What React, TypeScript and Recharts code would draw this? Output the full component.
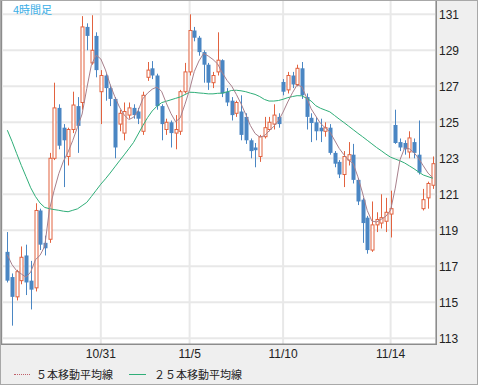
import { Bar, CartesianGrid, ComposedChart, Line, XAxis, YAxis } from "recharts";

const opens = [
  117.8, 116.4, 115.3, 116.2, 117.6, 116.2, 115.8, 120.1, 118.3, 118.5,
  123.0, 125.8, 124.7, 123.1, 124.6, 125.9, 126.1, 130.3, 128.3, 129.8,
  126.7, 127.6, 126.9, 126.3, 124.9, 124.4, 125.4, 125.8, 125.6, 124.5,
  127.5, 128.0, 127.6, 125.9, 124.6, 125.0, 124.4, 124.5, 126.7, 127.8,
  130.1, 129.7, 128.9, 128.2, 127.2, 127.8, 128.45, 126.7, 126.2, 125.5,
  125.6, 125.3, 124.0, 123.6, 123.1, 124.2, 124.6, 124.9, 125.3, 127.24,
  126.8, 127.6, 127.1, 128.0, 126.4, 125.25, 125.0, 124.7, 124.5, 124.7,
  123.3, 122.8, 122.1, 122.9, 123.2, 121.8, 120.7, 119.7, 117.9, 119.3,
  119.4, 119.5, 119.9, 124.85, 123.9, 123.85, 123.35, 123.9, 123.2, 120.2,
  120.8, 121.5,
];
const highs = [
  118.9, 116.6, 116.8, 118.1, 118.2, 117.3, 120.5, 120.2, 118.7, 123.3,
  127.2, 126.0, 124.9, 124.7, 126.7, 126.4, 130.9, 130.5, 130.95, 130.0,
  127.9, 127.7, 127.1, 126.4, 125.7, 126.1, 126.1, 126.0, 125.8, 126.7,
  128.35, 128.4, 127.7, 126.0, 125.2, 125.1, 125.4, 126.8, 128.3, 131.0,
  130.3, 129.8, 129.0, 128.3, 127.8, 130.0, 128.5, 126.9, 126.4, 126.2,
  126.5, 125.5, 124.1, 123.85, 124.3, 125.3, 125.3, 126.0, 125.5, 127.4,
  127.8, 127.8, 128.2, 128.35, 126.6, 125.5, 125.3, 125.2, 125.0, 124.9,
  123.4, 122.9, 123.4, 123.9, 123.8, 121.9, 120.8, 119.8, 120.6, 120.0,
  121.0, 120.8, 121.2, 125.7, 124.1, 124.0, 124.5, 124.1, 125.1, 121.3,
  121.7, 123.1,
];
const lows = [
  116.1, 113.7, 115.1, 116.0, 115.4, 114.6, 115.6, 117.9, 117.6, 118.3,
  122.9, 123.5, 121.4, 122.6, 124.4, 123.3, 125.7, 129.0, 128.2, 127.5,
  124.9, 126.2, 125.9, 123.0, 124.5, 124.0, 125.2, 125.2, 124.9, 124.3,
  127.3, 127.4, 125.7, 124.0, 124.3, 123.6, 123.5, 124.3, 126.6, 127.6,
  129.5, 128.7, 127.2, 126.8, 126.9, 127.6, 126.4, 125.9, 125.1, 125.3,
  124.0, 123.8, 123.0, 122.5, 122.8, 124.1, 124.5, 124.6, 124.7, 126.5,
  126.6, 126.9, 127.0, 126.3, 124.6, 123.9, 124.0, 123.9, 124.2, 123.2,
  122.5, 121.9, 121.4, 122.6, 121.6, 120.4, 118.3, 117.7, 117.8, 118.9,
  119.1, 118.9, 118.6, 123.8, 123.4, 123.2, 123.0, 123.0, 122.1, 120.1,
  120.2, 121.3,
];
const closes = [
  116.2, 115.3, 116.7, 117.5, 116.1, 115.7, 120.1, 118.2, 118.0, 123.0,
  125.8, 123.7, 124.0, 124.6, 125.96, 124.8, 130.3, 129.8, 129.0, 127.9,
  127.6, 126.9, 126.3, 123.6, 125.5, 125.6, 125.8, 125.4, 125.2, 126.5,
  127.9, 127.6, 125.9, 124.9, 125.0, 124.4, 124.6, 126.7, 127.8, 130.1,
  129.7, 128.9, 128.2, 127.2, 127.6, 128.45, 126.6, 126.1, 125.4, 126.1,
  124.3, 124.0, 123.4, 123.45, 124.2, 124.7, 125.0, 125.4, 124.9, 126.7,
  127.6, 127.1, 128.0, 126.5, 125.3, 124.96, 124.5, 124.5, 124.7, 123.3,
  122.7, 122.1, 123.1, 123.2, 121.8, 120.6, 119.4, 117.9, 119.3, 119.6,
  119.7, 120.0, 120.2, 123.85, 123.6, 123.5, 124.13, 123.3, 122.2, 120.7,
  121.6, 122.7,
];
const ma5 = [
  117.64, 117.09, 116.75, 116.57, 116.39, 116.68, 117.36, 117.61, 118.11, 120.14,
  121.2, 122.14, 122.84, 123.35, 123.99, 124.72, 125.46, 126.88, 128.21, 128.73,
  128.52, 127.91, 127.09, 126.42, 125.84, 125.41, 125.15, 125.28, 125.66, 126.31,
  126.62, 126.84, 126.96, 126.72, 126.07, 125.49, 125.03, 125.25, 126.0, 126.82,
  127.82, 128.41, 128.83, 128.68, 128.49, 128.24, 127.75, 127.33, 127.01, 126.55,
  126.03, 125.44, 124.82, 124.38, 124.18, 124.25, 124.52, 124.77, 125.09, 125.57,
  126.13, 126.64, 127.08, 126.98, 126.39, 125.75, 125.34, 124.94, 124.7, 124.47,
  124.01, 123.55, 123.2, 122.89, 122.71, 121.97, 121.07, 120.1, 119.51, 119.46,
  119.61, 119.78, 120.12, 121.34, 122.91, 123.57, 123.53, 123.32, 122.99, 122.58,
  122.18, 121.92,
];
const ma25 = [
  124.56, 123.94, 123.26, 122.6, 121.98, 121.36, 120.88, 120.51, 120.27, 120.2,
  120.15, 120.11, 120.06, 120.03, 120.11, 120.19, 120.37, 120.55, 120.88, 121.22,
  121.56, 121.86, 122.18, 122.52, 122.86, 123.19, 123.53, 123.88, 124.35, 124.82,
  125.26, 125.63, 125.89, 126.09, 126.17, 126.25, 126.33, 126.41, 126.54, 126.67,
  126.66, 126.63, 126.61, 126.58, 126.58, 126.61, 126.62, 126.69, 126.77, 126.78,
  126.75, 126.7, 126.62, 126.55, 126.43, 126.27, 126.18, 126.18, 126.21, 126.28,
  126.37, 126.43, 126.48, 126.47, 126.34, 126.18, 125.92, 125.78, 125.68, 125.58,
  125.38, 125.18, 124.99, 124.79, 124.59, 124.39, 124.2, 124.0, 123.8, 123.6,
  123.42, 123.23, 123.06, 122.96, 122.86, 122.74, 122.58, 122.42, 122.24, 122.07,
  121.98, 121.89,
];
const tickBars = [20, 39, 59, 82];
const tickLabels = ["10/31", "11/5", "11/10", "11/14"];
const priceTicks = [113, 115, 117, 119, 121, 123, 125, 127, 129, 131];

const UP = "#e2623f";
const DOWN = "#4a86c3";
const FONT = '"Liberation Sans", Arial, sans-serif';
const JP_FONT = '"Noto Sans CJK JP", sans-serif';

const data = opens.map((open, i) => ({
  i,
  open,
  close: closes[i],
  high: highs[i],
  low: lows[i],
  range: [lows[i], highs[i]],
  ma5: ma5[i],
  ma25: ma25[i],
}));

// Draws one candle inside the pixel box recharts gives the [low, high] bar.
function Candle(props: any) {
  const { x, y, width, height, payload } = props;
  if (payload == null) return null;
  const { open, close, high, low } = payload;
  const top = Math.min(y, y + height);
  const bottom = Math.max(y, y + height);
  const px = (v: number) => top + ((high - v) / (high - low)) * (bottom - top);
  const cx = Math.round(x + width / 2) + 0.5;
  const up = close >= open;
  const color = up ? UP : DOWN;
  const bodyTop = px(Math.max(open, close));
  const bodyH = Math.max(1, px(Math.min(open, close)) - bodyTop);
  return (
    <g>
      <line x1={cx} x2={cx} y1={top} y2={bottom} stroke={color} strokeWidth={1} />
      {up ? (
        <rect x={cx - 1.5} y={bodyTop} width={3} height={bodyH} fill="#fff" stroke={color} strokeWidth={1} />
      ) : (
        <rect x={cx - 2} y={bodyTop} width={4} height={bodyH} fill={color} />
      )}
    </g>
  );
}

export default function App() {
  return (
    <div style={{ position: "absolute", left: 0, top: 0, width: 478, height: 385, background: "#efefef" }}>
      <ComposedChart
        width={478}
        height={385}
        data={data}
        margin={{ top: 1, right: 0, bottom: 21, left: 2 }}
      >
        <CartesianGrid
          fill="#ffffff"
          stroke="#e8e8e8"
          strokeWidth={2}
          horizontalValues={priceTicks}
        />
        <XAxis
          dataKey="i"
          type="category"
          ticks={tickBars}
          interval={0}
          tickFormatter={(v: number) => tickLabels[tickBars.indexOf(v)] ?? ""}
          padding={{ left: 3, right: 1 }}
          height={20}
          tickSize={0}
          tickMargin={5}
          axisLine={{ stroke: "#8c8c8c" }}
          tick={{ fontSize: 12, fill: "#222", fontFamily: FONT }}
        />
        <YAxis
          orientation="right"
          domain={[112.68, 131.74]}
          ticks={priceTicks}
          allowDataOverflow
          width={42}
          tickSize={0}
          tickMargin={3}
          axisLine={{ stroke: "#8c8c8c" }}
          tick={{ fontSize: 12, fill: "#222", fontFamily: FONT, textAnchor: "start" }}
        />
        <Bar dataKey="range" shape={<Candle />} isAnimationActive={false} />
        <Line
          dataKey="ma25"
          type="linear"
          stroke="#2fae78"
          strokeWidth={1}
          dot={false}
          isAnimationActive={false}
        />
        <Line
          dataKey="ma5"
          type="linear"
          stroke="#a8808c"
          strokeWidth={1}
          dot={false}
          isAnimationActive={false}
        />
      </ComposedChart>
      <div
        style={{
          position: "absolute",
          left: 13,
          top: 1,
          fontSize: 11,
          color: "#3aaee6",
          fontFamily: JP_FONT,
        }}
      >
        4時間足
      </div>
      <div
        style={{
          position: "absolute",
          left: 14,
          top: 366,
          display: "flex",
          alignItems: "center",
          fontSize: 11,
          color: "#222",
          fontFamily: JP_FONT,
          whiteSpace: "nowrap",
        }}
      >
        <span style={{ width: 16, borderTop: "1px dotted #c0606a", marginRight: 6 }} />
        <span>５本移動平均線</span>
        <span style={{ width: 17, borderTop: "1px solid #2fae78", marginLeft: 16, marginRight: 8 }} />
        <span>２５本移動平均線</span>
      </div>
      <div
        style={{
          position: "absolute",
          left: 1,
          top: 0,
          width: 436,
          height: 345,
          boxSizing: "border-box",
          border: "1px solid #8c8c8c",
          pointerEvents: "none",
        }}
      />
      <div
        style={{
          position: "absolute",
          inset: 0,
          boxSizing: "border-box",
          border: "1px solid #a8a8a8",
          pointerEvents: "none",
        }}
      />
    </div>
  );
}
